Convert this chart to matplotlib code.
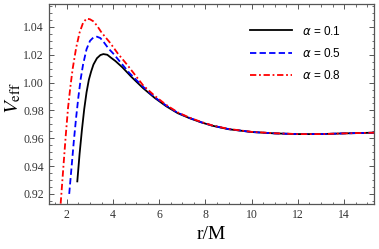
import matplotlib
matplotlib.use("Agg")
from matplotlib import pyplot as plt
from matplotlib.ticker import MultipleLocator, FormatStrFormatter

# values
r_a1 = [2.45, 2.55, 2.65, 2.75, 2.85, 2.95, 3.05, 3.15, 3.3, 3.45, 3.58, 3.75, 3.9, 4.1, 4.4, 4.8,
        5.3, 5.8, 6.3, 6.8, 7.3, 7.8, 8.3, 9.0, 10.0, 11.0, 12.0, 13.0, 14.0, 15.3]
v_a1 = [0.929, 0.949, 0.966, 0.981, 0.993, 1.002, 1.008, 1.013, 1.0175, 1.0198, 1.0205, 1.0200, 1.018, 1.0155, 1.011, 1.004,
        0.996, 0.989, 0.983, 0.978, 0.9745, 0.9715, 0.969, 0.9665, 0.9645, 0.9635, 0.963, 0.963, 0.9635, 0.964]

r_a5 = [2.10, 2.2, 2.3, 2.4, 2.5, 2.6, 2.7, 2.85, 3.0, 3.15, 3.3, 3.45, 3.6, 3.8, 4.0, 4.3, 4.7,
        5.3, 5.8, 6.3, 6.8, 7.3, 7.8, 8.3, 9.0, 10.0, 11.0, 12.0, 13.0, 14.0, 15.3]
v_a5 = [0.920, 0.939, 0.958, 0.975, 0.990, 1.003, 1.013, 1.024, 1.030, 1.0325, 1.0330, 1.032, 1.029, 1.0245, 1.021, 1.015, 1.007,
        0.997, 0.9895, 0.9835, 0.9783, 0.9747, 0.9716, 0.9691, 0.9666, 0.9645, 0.9635, 0.963, 0.963, 0.9635, 0.964]

r_a8 = [1.73, 1.85, 1.95, 2.05, 2.15, 2.25, 2.4, 2.55, 2.7, 2.85, 3.0, 3.15, 3.3, 3.5, 3.87, 4.2, 4.6,
        5.3, 5.8, 6.3, 6.8, 7.3, 7.8, 8.3, 9.0, 10.0, 11.0, 12.0, 13.0, 14.0, 15.3]
v_a8 = [0.913, 0.940, 0.962, 0.982, 0.997, 1.010, 1.025, 1.036, 1.043, 1.046, 1.0455, 1.044, 1.041, 1.036, 1.0286, 1.021, 1.013,
        0.998, 0.9905, 0.984, 0.9786, 0.9749, 0.9718, 0.9692, 0.9667, 0.9646, 0.9636, 0.963, 0.963, 0.9635, 0.964]

labels = ["0.1", "0.5", "0.8"]

plt.rcParams['font.family'] = 'Liberation Serif'
plt.rcParams['mathtext.fontset'] = 'stix'

fig = plt.figure(figsize=(3.79, 2.49), dpi=100)
ax = fig.add_axes([0.129, 0.181, 0.858, 0.803])

ax.plot(r_a1, v_a1, color="black", linewidth=1.3, label=r"$\alpha$ = " + labels[0])
ax.plot(r_a5, v_a5, color="blue", linewidth=1.3, dashes=(3.5, 1.8), label=r"$\alpha$ = " + labels[1])
ax.plot(r_a8, v_a8, color="red", linewidth=1.3, dashes=(3.5, 1.5, 1.0, 1.5), label=r"$\alpha$ = " + labels[2])

ax.set_xlim(1.22, 15.3)
ax.set_ylim(0.9128, 1.0565)
ax.xaxis.set_major_locator(MultipleLocator(2))
ax.xaxis.set_minor_locator(MultipleLocator(0.5))
ax.yaxis.set_major_locator(MultipleLocator(0.02))
ax.yaxis.set_minor_locator(MultipleLocator(0.005))
ax.yaxis.set_major_formatter(FormatStrFormatter('%.2f'))
ax.tick_params(which='both', direction='in', top=True, right=True, colors='#555555', labelcolor='#333333', labelsize=8.5)
ax.tick_params(which='major', length=3.5, width=0.7)
ax.tick_params(which='minor', length=1.8, width=0.6)
for s in ax.spines.values():
    s.set_color('#555555')
    s.set_linewidth(0.9)

ax.set_xlabel("r/M", fontsize=14, labelpad=4)
ax.set_ylabel(r"$V_{\rm eff}$", fontsize=15)
ax.yaxis.set_label_coords(-0.08, 0.53)

plt.rcParams['mathtext.fontset'] = 'dejavusans'
leg = ax.legend(loc='upper right', frameon=False, handlelength=3.6,
                prop={'family': 'Liberation Sans', 'size': 8.5}, labelspacing=0.8,
                bbox_to_anchor=(0.93, 0.95))

fig.savefig("out.png", dpi=100)
